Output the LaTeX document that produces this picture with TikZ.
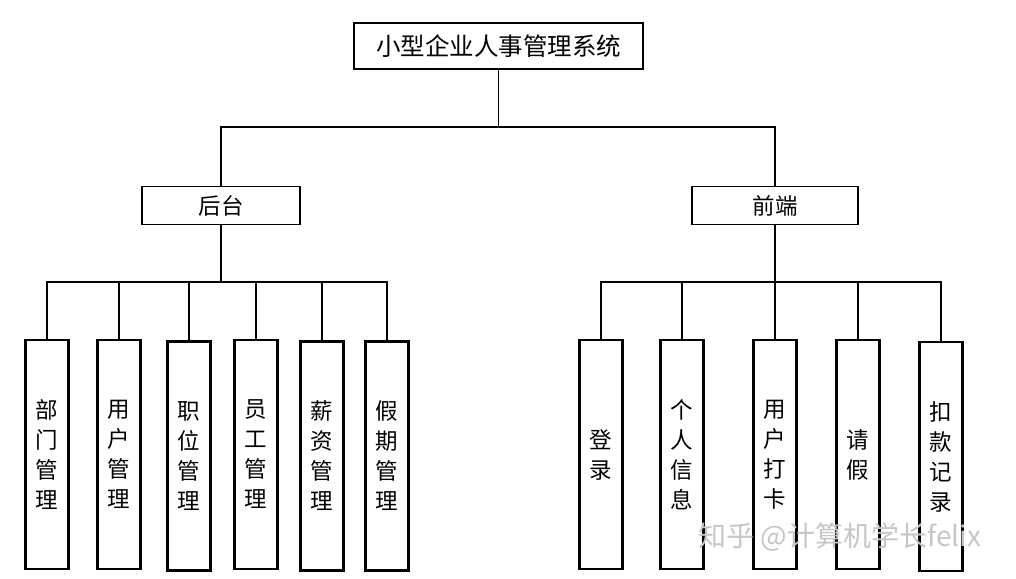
\documentclass[tikz,border=0pt]{standalone}
\usepackage{fontspec}
\newfontfamily\cjk{Noto Sans CJK SC}
\usepackage{tikz}
\usetikzlibrary{positioning}

\begin{document}
\begin{tikzpicture}[
      x=1pt, y=-1pt,
      rootbox/.style={
        rectangle, draw, line width=1.8pt, inner sep=0pt,
        minimum width=289pt, minimum height=46pt,
        font=\cjk\fontsize{24.5}{28}\selectfont,
      },
      groupbox/.style={
        rectangle, draw, line width=1.8pt, inner sep=0pt,
        minimum height=38pt,
        font=\cjk\fontsize{22.5}{26}\selectfont,
      },
      leafbox/.style={
        rectangle, draw, line width=2.2pt, inner sep=0pt, align=center,
        minimum width=43pt, minimum height=229pt,
        font=\cjk\fontsize{22.5}{30}\selectfont,
      },
      link/.style={line width=1.8pt},
      watermark/.style={text=gray!45, font=\cjk\fontsize{28}{32}\selectfont},
    ]
      \useasboundingbox (0,0) rectangle (1016,578);

      % top and second level
      \node[rootbox] (sys) at (498.5,46) {小型企业人事管理系统};
      \node[groupbox, minimum width=158pt] (hou) at (221,205.5) {后台};
      \node[groupbox, minimum width=166pt] (qian) at (775,205.5) {前端};

      % junctions of the bars
      \coordinate (topbar) at (498.5,127);
      \coordinate (hbar) at (221,282);
      \coordinate (qbar) at (775,282);

      % leaves
      \foreach \name/\x/\y/\txt in {
          bm/47/454.5/{部\\门\\管\\理}, yh/119/454.5/{用\\户\\管\\理},
          zw/189/456/{职\\位\\管\\理}, yg/256/454.5/{员\\工\\管\\理},
          xz/322/456/{薪\\资\\管\\理}, jq/387/456/{假\\期\\管\\理},
          dl/601/454.5/{登\\录}, gr/682/454.5/{个\\人\\信\\息},
          dk/775/454.5/{用\\户\\打\\卡}, qj/858/454.5/{请\\假},
          kk/941/456.5/{扣\\款\\记\\录}}
        \node[leafbox] (\name) at (\x,\y) {\txt};

      % Draw lines
      \draw[link] (sys) -- (topbar);
      \draw[link] (hou) |- (topbar) -| (qian);
      \draw[link] (hou) -- (hbar);
      \draw[link] (qian) -- (qbar);
      \foreach \n in {bm,yh,zw,yg,xz,jq}
        \draw[link] (hbar) -| (\n);
      \foreach \n in {dl,gr,dk,qj,kk}
        \draw[link] (qbar) -| (\n);

      \node[watermark] (zhihu) at (840,537) {知乎 @计算机学长felix};
    \end{tikzpicture}
\end{document}
